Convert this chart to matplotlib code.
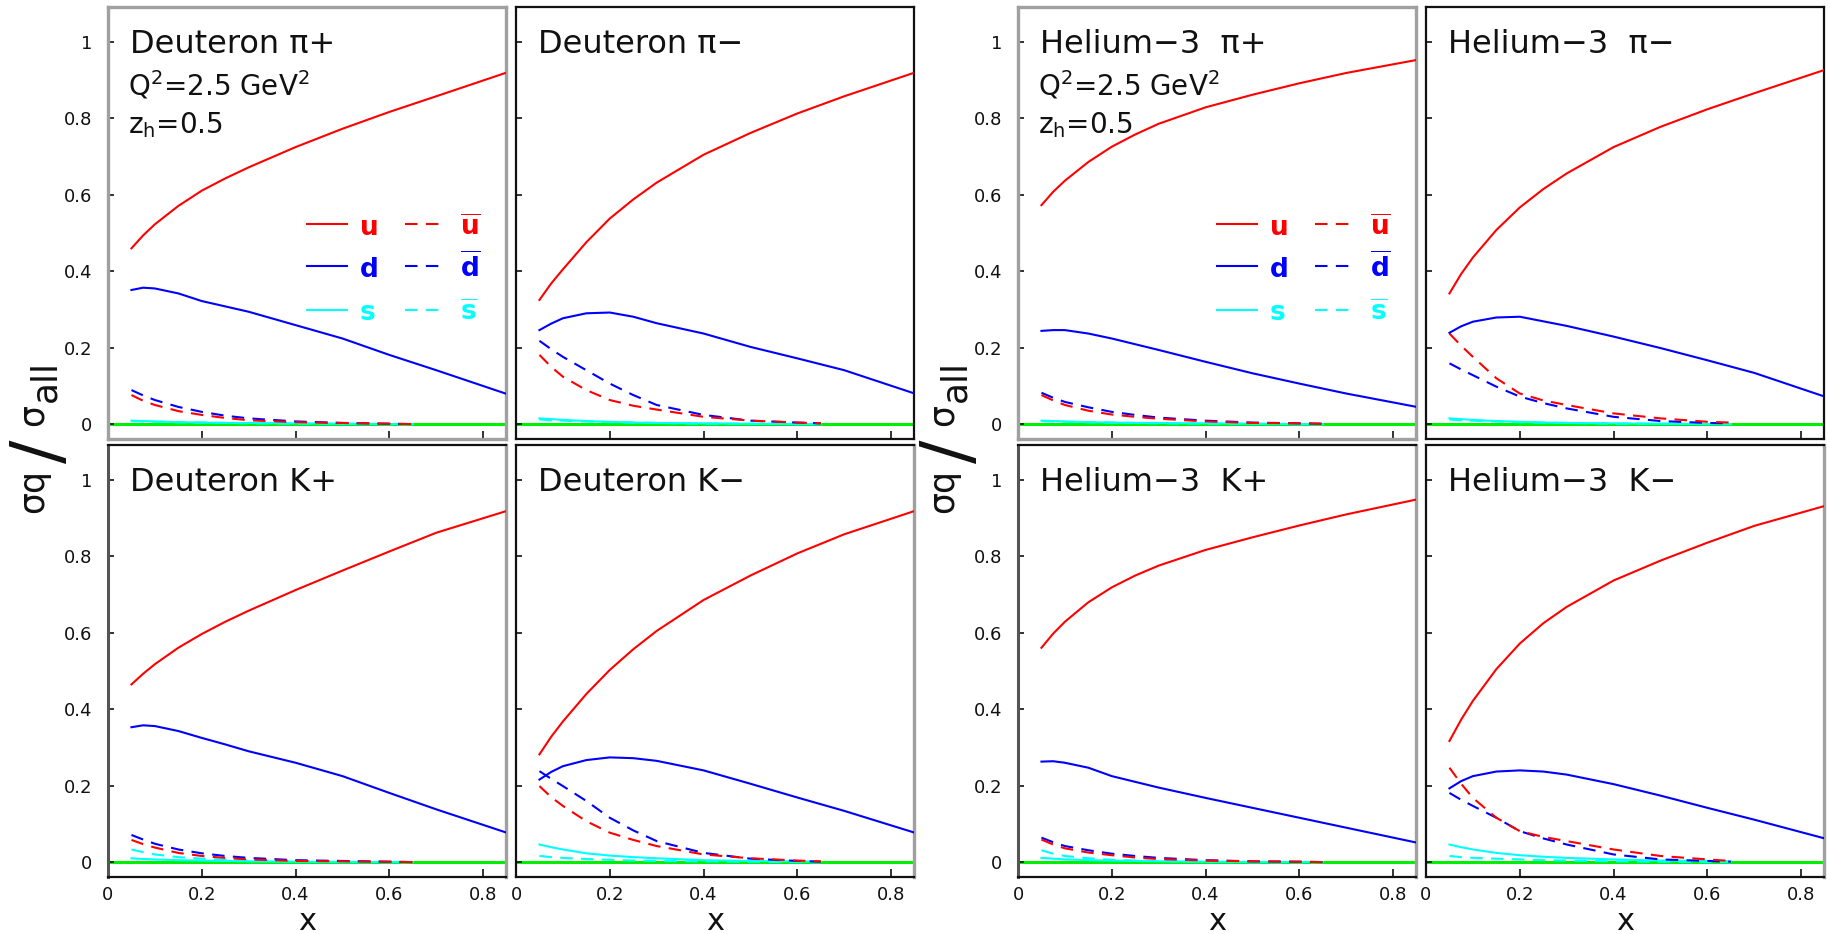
import matplotlib
matplotlib.use("Agg")
import matplotlib.pyplot as plt

# ---------------- data ----------------
X = [0.05, 0.075, 0.1, 0.15, 0.2, 0.25, 0.3, 0.4, 0.5, 0.6, 0.7, 0.85]
XS = [0.05, 0.075, 0.1, 0.15, 0.2, 0.25, 0.3, 0.4, 0.5, 0.6, 0.65]

TITLES = ["Deuteron π+", "Deuteron π−", "Helium−3  π+", "Helium−3  π−",
          "Deuteron K+", "Deuteron K−", "Helium−3  K+", "Helium−3  K−"]

XTICKS = [0, 0.2, 0.4, 0.6, 0.8]
XTICKLABELS = ["0", "0.2", "0.4", "0.6", "0.8"]
YTICKS = [0, 0.2, 0.4, 0.6, 0.8, 1.0]
YTICKLABELS = ["0", "0.2", "0.4", "0.6", "0.8", "1"]

# Deuteron pi+
dpip_u = [0.46, 0.494, 0.523, 0.571, 0.611, 0.643, 0.672, 0.725, 0.773, 0.817, 0.858, 0.92]
dpip_d = [0.351, 0.357, 0.355, 0.342, 0.322, 0.308, 0.294, 0.259, 0.224, 0.181, 0.141, 0.079]
dpip_ub = [0.076, 0.061, 0.05, 0.034, 0.024, 0.016, 0.01, 0.005, 0.003, 0.001, 0.0]
dpip_db = [0.089, 0.075, 0.063, 0.045, 0.032, 0.022, 0.015, 0.007, 0.003, 0.001, 0.0]
dpip_s = [0.009, 0.008, 0.007, 0.005, 0.004, 0.003, 0.003, 0.002, 0.001, 0.0, 0.0]
dpip_sb = [0.008, 0.007, 0.006, 0.005, 0.004, 0.003, 0.002, 0.001, 0.001, 0.0, 0.0]

# Deuteron pi-
dpim_u = [0.325, 0.368, 0.405, 0.476, 0.538, 0.588, 0.632, 0.705, 0.762, 0.813, 0.858, 0.92]
dpim_d = [0.246, 0.263, 0.277, 0.29, 0.292, 0.281, 0.264, 0.237, 0.202, 0.172, 0.141, 0.08]
dpim_ub = [0.181, 0.15, 0.124, 0.089, 0.063, 0.048, 0.038, 0.019, 0.009, 0.004, 0.002]
dpim_db = [0.218, 0.196, 0.176, 0.141, 0.106, 0.076, 0.05, 0.024, 0.009, 0.004, 0.002]
dpim_s = [0.015, 0.013, 0.011, 0.008, 0.006, 0.004, 0.003, 0.002, 0.001, 0.0, 0.0]
dpim_sb = [0.012, 0.01, 0.009, 0.007, 0.005, 0.004, 0.003, 0.001, 0.001, 0.0, 0.0]

# Helium-3 pi+
hpip_u = [0.573, 0.608, 0.637, 0.686, 0.726, 0.758, 0.786, 0.829, 0.862, 0.892, 0.919, 0.953]
hpip_d = [0.244, 0.246, 0.246, 0.237, 0.224, 0.209, 0.194, 0.163, 0.133, 0.106, 0.08, 0.045]
hpip_ub = [0.076, 0.062, 0.05, 0.035, 0.025, 0.019, 0.014, 0.007, 0.003, 0.002, 0.001]
hpip_db = [0.082, 0.069, 0.058, 0.044, 0.032, 0.024, 0.017, 0.009, 0.004, 0.002, 0.001]
hpip_s = [0.009, 0.008, 0.007, 0.005, 0.004, 0.003, 0.003, 0.002, 0.001, 0.0, 0.0]
hpip_sb = [0.008, 0.007, 0.006, 0.005, 0.004, 0.003, 0.002, 0.001, 0.001, 0.0, 0.0]

# Helium-3 pi-
hpim_u = [0.342, 0.393, 0.436, 0.508, 0.567, 0.615, 0.656, 0.725, 0.778, 0.824, 0.866, 0.927]
hpim_d = [0.239, 0.256, 0.268, 0.279, 0.281, 0.269, 0.257, 0.229, 0.199, 0.167, 0.134, 0.072]
hpim_ub = [0.237, 0.205, 0.176, 0.12, 0.08, 0.062, 0.05, 0.028, 0.015, 0.006, 0.004]
hpim_db = [0.159, 0.143, 0.128, 0.098, 0.072, 0.055, 0.041, 0.019, 0.008, 0.003, 0.002]
hpim_s = [0.015, 0.013, 0.011, 0.008, 0.006, 0.004, 0.003, 0.002, 0.001, 0.0, 0.0]
hpim_sb = [0.012, 0.01, 0.009, 0.007, 0.005, 0.004, 0.003, 0.001, 0.001, 0.0, 0.0]

# Deuteron K+
dkp_u = [0.465, 0.493, 0.518, 0.561, 0.597, 0.629, 0.658, 0.712, 0.763, 0.813, 0.862, 0.919]
dkp_d = [0.353, 0.358, 0.356, 0.343, 0.325, 0.308, 0.29, 0.26, 0.225, 0.181, 0.138, 0.077]
dkp_ub = [0.058, 0.047, 0.038, 0.024, 0.016, 0.011, 0.007, 0.003, 0.002, 0.001, 0.0]
dkp_db = [0.071, 0.059, 0.048, 0.033, 0.023, 0.016, 0.011, 0.005, 0.003, 0.001, 0.0]
dkp_s = [0.01, 0.008, 0.007, 0.005, 0.004, 0.003, 0.002, 0.001, 0.0, 0.0, 0.0]
dkp_sb = [0.033, 0.026, 0.02, 0.013, 0.009, 0.006, 0.004, 0.002, 0.001, 0.0, 0.0]

# Deuteron K-
dkm_u = [0.282, 0.328, 0.368, 0.44, 0.503, 0.557, 0.605, 0.686, 0.75, 0.808, 0.858, 0.919]
dkm_d = [0.216, 0.236, 0.251, 0.267, 0.274, 0.272, 0.265, 0.24, 0.205, 0.169, 0.134, 0.077]
dkm_ub = [0.199, 0.17, 0.147, 0.107, 0.077, 0.058, 0.042, 0.02, 0.01, 0.004, 0.002]
dkm_db = [0.238, 0.218, 0.199, 0.16, 0.116, 0.083, 0.055, 0.024, 0.009, 0.003, 0.001]
dkm_s = [0.046, 0.039, 0.033, 0.023, 0.017, 0.013, 0.01, 0.005, 0.003, 0.002, 0.001]
dkm_sb = [0.016, 0.013, 0.011, 0.008, 0.006, 0.004, 0.003, 0.002, 0.001, 0.0, 0.0]

# Helium-3 K+
hkp_u = [0.561, 0.598, 0.629, 0.68, 0.719, 0.75, 0.776, 0.817, 0.85, 0.881, 0.91, 0.949]
hkp_d = [0.263, 0.264, 0.26, 0.247, 0.225, 0.21, 0.195, 0.168, 0.142, 0.116, 0.09, 0.051]
hkp_ub = [0.059, 0.046, 0.036, 0.025, 0.018, 0.012, 0.008, 0.004, 0.002, 0.001, 0.0]
hkp_db = [0.064, 0.052, 0.042, 0.031, 0.022, 0.016, 0.011, 0.005, 0.002, 0.001, 0.0]
hkp_s = [0.011, 0.009, 0.007, 0.005, 0.004, 0.003, 0.002, 0.001, 0.0, 0.0, 0.0]
hkp_sb = [0.031, 0.022, 0.016, 0.01, 0.006, 0.004, 0.003, 0.001, 0.0, 0.0, 0.0]

# Helium-3 K-
hkm_u = [0.317, 0.373, 0.422, 0.505, 0.572, 0.625, 0.668, 0.737, 0.789, 0.836, 0.88, 0.932]
hkm_d = [0.193, 0.212, 0.225, 0.237, 0.24, 0.237, 0.229, 0.204, 0.174, 0.142, 0.111, 0.062]
hkm_ub = [0.247, 0.205, 0.168, 0.116, 0.081, 0.066, 0.055, 0.033, 0.016, 0.007, 0.003]
hkm_db = [0.181, 0.163, 0.147, 0.116, 0.081, 0.062, 0.046, 0.02, 0.007, 0.003, 0.001]
hkm_s = [0.046, 0.039, 0.033, 0.024, 0.018, 0.014, 0.011, 0.007, 0.004, 0.003, 0.002]
hkm_sb = [0.016, 0.013, 0.011, 0.009, 0.007, 0.005, 0.004, 0.002, 0.001, 0.0, 0.0]

PANELS = [
    (dpip_u, dpip_d, dpip_s, dpip_ub, dpip_db, dpip_sb),
    (dpim_u, dpim_d, dpim_s, dpim_ub, dpim_db, dpim_sb),
    (hpip_u, hpip_d, hpip_s, hpip_ub, hpip_db, hpip_sb),
    (hpim_u, hpim_d, hpim_s, hpim_ub, hpim_db, hpim_sb),
    (dkp_u, dkp_d, dkp_s, dkp_ub, dkp_db, dkp_sb),
    (dkm_u, dkm_d, dkm_s, dkm_ub, dkm_db, dkm_sb),
    (hkp_u, hkp_d, hkp_s, hkp_ub, hkp_db, hkp_sb),
    (hkm_u, hkm_d, hkm_s, hkm_ub, hkm_db, hkm_sb),
]

QUARKS = ["u", "d", "s"]

# ---------------- style ----------------
RED = "#ff0000"
BLUE = "#0000ff"
CYAN = "#00ffff"
GREEN = "#00ee00"
COLORS = [RED, BLUE, CYAN]
GREY = "#a0a0a0"
DASH = (0, (6, 4))
LW = 1.5
INK = "#111111"

plt.rcParams["font.family"] = ["DejaVu Sans"]
plt.rcParams["mathtext.fontset"] = "dejavusans"

W, H = 1831, 934
fig = plt.figure(figsize=(W / 100, H / 100), dpi=100)
COL_LEFT = [108, 516, 1018, 1426]
ROW_TOP = [7, 445]
AW, AH = 398, 432


def rect(left, top):
    return [left / W, 1 - (top + AH) / H, AW / W, AH / H]


for i, series in enumerate(PANELS):
    r, c = divmod(i, 4)
    ax = fig.add_axes(rect(COL_LEFT[c], ROW_TOP[r]))
    u, d, s, ub, db, sb = series
    ax.axhline(0, color=GREEN, lw=2.2, zorder=1.5)
    ax.plot(X, u, color=RED, lw=LW, zorder=3)
    ax.plot(X, d, color=BLUE, lw=LW, zorder=3)
    ax.plot(XS, s, color=CYAN, lw=LW, zorder=2.6)
    ax.plot(XS, sb, color=CYAN, lw=LW, ls=DASH, zorder=2.6)
    ax.plot(XS, ub, color=RED, lw=LW, ls=DASH, zorder=2.8)
    ax.plot(XS, db, color=BLUE, lw=LW, ls=DASH, zorder=2.7)

    ax.set_xlim(0, 0.8486)
    ax.set_ylim(-0.039, 1.0916)

    ax.set_xticks(XTICKS)
    ax.set_yticks(YTICKS)
    ax.set_xticklabels(XTICKLABELS if r == 1 else [""] * len(XTICKS))
    ax.set_yticklabels(YTICKLABELS if c in (0, 2) else [""] * len(YTICKS))
    ax.tick_params(axis="x", direction="in", length=6, width=1.2, pad=6.5,
                   labelsize=13, colors=INK, top=False)
    ax.tick_params(axis="y", direction="in", length=4, width=1.2, pad=11.5,
                   labelsize=13, colors=INK, right=False)

    # frame colours
    if r == 0 and c in (0, 2):
        for sp in ax.spines.values():
            sp.set_color(GREY)
            sp.set_linewidth(2.4)
    elif r == 0:
        for sp in ax.spines.values():
            sp.set_color(INK)
            sp.set_linewidth(1.6)
    else:
        for sp in ax.spines.values():
            sp.set_color(INK)
            sp.set_linewidth(1.6)
        ax.spines["right"].set_color(GREY)
        ax.spines["right"].set_linewidth(2.4)
        if c in (0, 2):
            ax.spines["left"].set_color("#555555")
            ax.spines["left"].set_linewidth(2.2)

    ax.text(0.055, 0.894, TITLES[i], transform=ax.transAxes, fontsize=23,
            va="baseline", ha="left", color=INK)

    if r == 0 and c in (0, 2):
        ax.text(0.05, 0.796, r"Q$^{2}$=2.5 GeV$^{2}$", transform=ax.transAxes,
                fontsize=20, va="baseline", ha="left", color=INK)
        ax.text(0.05, 0.708, r"z$_{\mathregular{h}}$=0.5", transform=ax.transAxes,
                fontsize=20, va="baseline", ha="left", color=INK)
        # key
        key_line_y = [0.498, 0.400, 0.299]
        key_text_y = [0.472, 0.375, 0.275]
        for q, col, yl, yt in zip(QUARKS, COLORS, key_line_y, key_text_y):
            ax.plot([0.50, 0.601], [yl, yl], transform=ax.transAxes,
                    color=col, lw=LW, clip_on=False)
            ax.plot([0.746, 0.847], [yl, yl], transform=ax.transAxes,
                    color=col, lw=LW, ls=DASH, clip_on=False)
            ax.text(0.633, yt, q, transform=ax.transAxes, color=col,
                    fontsize=19, fontweight="bold", va="baseline", ha="left")
            ax.text(0.884, yt, r"$\overline{\mathbf{%s}}$" % q,
                    transform=ax.transAxes, color=col, fontsize=19,
                    va="baseline", ha="left")

    if r == 1:
        cx = (COL_LEFT[c] + AW / 2) / W
        fig.text(cx, 4 / H, "x", fontsize=22, ha="center", va="baseline",
                 color=INK)


# y-axis labels (one per group)
def ylabel(dx):
    kw = dict(rotation=90, rotation_mode="anchor", ha="left", va="baseline",
              color=INK)
    fig.text((43 + dx) / W, 1 - 513 / H, "σq", fontsize=25, **kw)
    fig.text((61 + dx) / W, 1 - 463 / H, "/", fontsize=50, **kw)
    fig.text((43 + dx) / W, 1 - 426 / H, "σ", fontsize=25, **kw)
    fig.text((55 + dx) / W, 1 - 402 / H, "all", fontsize=26, **kw)


ylabel(0)
ylabel(910)

fig.savefig("out.png", dpi=100, facecolor="white")
